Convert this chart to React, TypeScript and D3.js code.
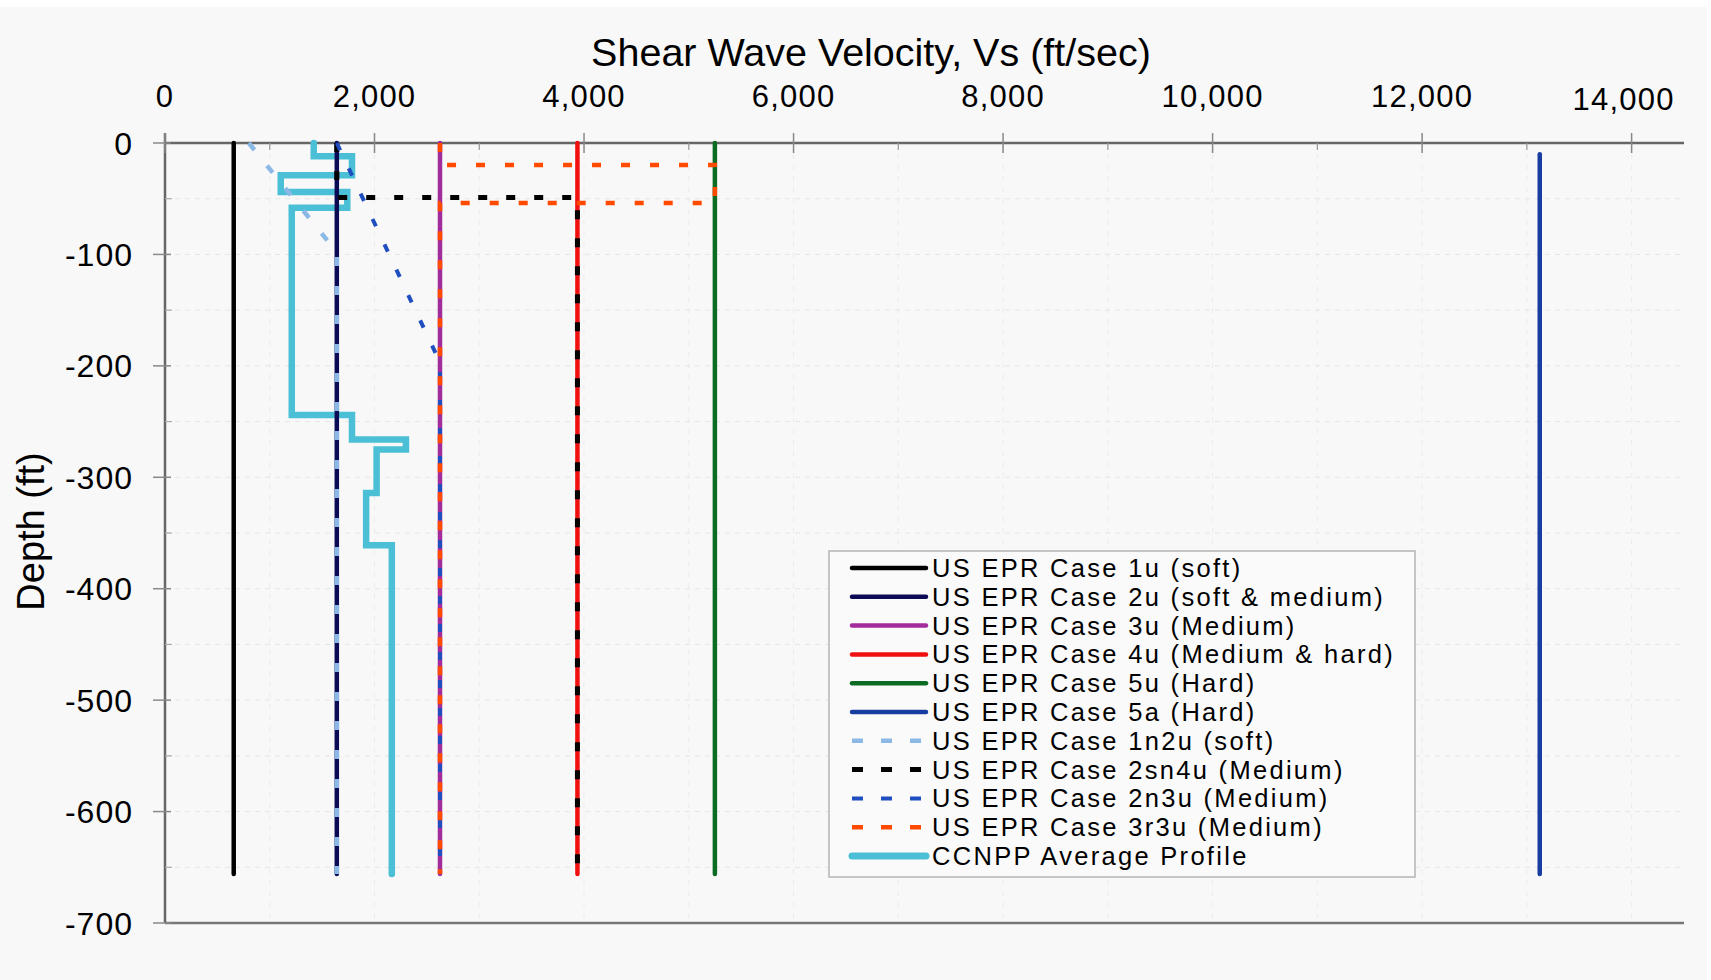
import React from "react";
import * as d3 from "d3";

type Pt = [number, number]; // [velocity ft/s, depth ft]

const velocityTicks = [0, 2000, 4000, 6000, 8000, 10000, 12000, 14000];
const velocityMinorTicks = [1000, 3000, 5000, 7000, 9000, 11000, 13000];
const depthTicks = [0, -100, -200, -300, -400, -500, -600, -700];
const depthMinorTicks = [-50, -150, -250, -350, -450, -550, -650];

const case1u: Pt[] = [[656, 0], [656, -656]];
const case2u: Pt[] = [[1640, 0], [1640, -656]];
const case3u: Pt[] = [[2625, 0], [2625, -656]];
const case4u: Pt[] = [[3937, 0], [3937, -656]];
const case5u: Pt[] = [[5249, 0], [5249, -656]];
const case5a: Pt[] = [[13123, -10], [13123, -656]];
const case1n2u: Pt[] = [[800, 0], [1640, -98], [1640, -656]];
const case2sn4u: Pt[] = [[1640, 0], [1640, -49], [3937, -49], [3937, -656]];
const case2n3u: Pt[] = [[1640, 0], [2625, -197], [2625, -656]];
const case3r3u: Pt[] = [
  [2625, 0], [2625, -19.7], [5249, -19.7], [5249, -53.8], [2625, -53.8], [2625, -656],
];
const ccnpp: Pt[] = [
  [1420, 0], [1420, -12], [1785, -12], [1785, -29], [1105, -29], [1105, -44],
  [1740, -44], [1740, -58], [1210, -58], [1210, -244], [1785, -244], [1785, -266],
  [2300, -266], [2300, -275], [2020, -275], [2020, -314], [1920, -314], [1920, -361],
  [2165, -361], [2165, -656],
];

const seriesLabels = [
  "US EPR Case 1u (soft)",
  "US EPR Case 2u (soft & medium)",
  "US EPR Case 3u (Medium)",
  "US EPR Case 4u (Medium & hard)",
  "US EPR Case 5u (Hard)",
  "US EPR Case 5a (Hard)",
  "US EPR Case 1n2u (soft)",
  "US EPR Case 2sn4u (Medium)",
  "US EPR Case 2n3u (Medium)",
  "US EPR Case 3r3u (Medium)",
  "CCNPP Average Profile",
];
const seriesData = [case1u, case2u, case3u, case4u, case5u, case5a, case1n2u, case2sn4u, case2n3u, case3r3u, ccnpp];

const seriesStyles = [
  { color: "#000000", width: 4.5, dash: "" },
  { color: "#0a0a55", width: 4.5, dash: "" },
  { color: "#a22c9c", width: 4.5, dash: "" },
  { color: "#f01010", width: 4.5, dash: "" },
  { color: "#0b6b22", width: 4.5, dash: "" },
  { color: "#173da0", width: 4.5, dash: "" },
  { color: "#8cb8e6", width: 4.5, dash: "9 20" },
  { color: "#000000", width: 5, dash: "9 19" },
  { color: "#1f4ec0", width: 4, dash: "8 20" },
  { color: "#ff4a00", width: 4.5, dash: "9 20" },
  { color: "#4bbfd5", width: 6.5, dash: "" },
];

const FONT = "'Liberation Sans', Arial, sans-serif";

export default function App() {
  const x = d3.scaleLinear().domain([0, 14500]).range([165, 1684]);
  const y = d3.scaleLinear().domain([0, -700]).range([143, 923]);
  const line = d3
    .line<Pt>()
    .x((d) => x(d[0]))
    .y((d) => y(d[1]));
  const fmt = d3.format(",");

  const gridV = d3.range(1000, 14001, 1000);
  const gridH = d3.range(-50, -651, -50);

  const order = [10, 0, 1, 2, 3, 4, 5, 6, 7, 8, 9];

  const legX = 829;
  const legY = 551;
  const legW = 586;
  const legH = 326;
  const rowY0 = 568;
  const rowStep = 28.8;

  return (
    <svg
      width={1711}
      height={980}
      style={{ position: "absolute", left: 0, top: 0, display: "block" }}
      fontFamily={FONT}
    >
      <rect x={0} y={0} width={1711} height={980} fill="#ffffff" />
      <rect x={0} y={7} width={1707} height={973} fill="#f8f8f8" />

      {/* gridlines */}
      {gridV.map((v) => (
        <line key={"gv" + v} x1={x(v)} x2={x(v)} y1={y(0)} y2={y(-700)} stroke="#ececec" strokeWidth={1} strokeDasharray="5 6" />
      ))}
      {gridH.map((d) => (
        <line key={"gh" + d} x1={x(0)} x2={x(14500)} y1={y(d)} y2={y(d)} stroke="#e6e6e6" strokeWidth={1} strokeDasharray="5 5" />
      ))}

      {/* axes */}
      <line x1={x(0)} x2={x(14500)} y1={y(0)} y2={y(0)} stroke="#666" strokeWidth={2.5} />
      <line x1={x(0)} x2={x(14500)} y1={y(-700)} y2={y(-700)} stroke="#777" strokeWidth={2.5} />
      <line x1={x(0)} x2={x(0)} y1={y(0) - 10} y2={y(-700)} stroke="#666" strokeWidth={2.5} />

      {velocityTicks.map((v) => (
        <line key={"xt" + v} x1={x(v)} x2={x(v)} y1={y(0) - 10} y2={y(0) + 10} stroke="#888" strokeWidth={1.5} />
      ))}
      {velocityMinorTicks.map((v) => (
        <line key={"xm" + v} x1={x(v)} x2={x(v)} y1={y(0)} y2={y(0) + 7} stroke="#999" strokeWidth={1.2} />
      ))}
      {depthTicks.map((d) => (
        <line key={"yt" + d} x1={x(0) - 12} x2={x(0) + 6} y1={y(d)} y2={y(d)} stroke="#888" strokeWidth={1.5} />
      ))}
      {depthMinorTicks.map((d) => (
        <line key={"ym" + d} x1={x(0)} x2={x(0) + 7} y1={y(d)} y2={y(d)} stroke="#aaa" strokeWidth={1.2} />
      ))}

      {velocityTicks.map((v, i) => {
        const last = i === velocityTicks.length - 1;
        return (
          <text
            key={"xl" + v}
            x={x(v) + (last ? -8 : 0)}
            y={last ? 110 : 106.5}
            textAnchor="middle"
            fontSize={31}
            letterSpacing={1.2}
            fill="#000"
          >
            {fmt(v)}
          </text>
        );
      })}
      {depthTicks.map((d) => (
        <text key={"yl" + d} x={133} y={y(d)} dy="0.36em" textAnchor="end" fontSize={32} letterSpacing={1} fill="#000">
          {fmt(d).replace("−", "-")}
        </text>
      ))}

      <text x={871} y={66} textAnchor="middle" fontSize={39.5} fill="#000">
        Shear Wave Velocity, Vs (ft/sec)
      </text>
      <text transform="translate(43.5,531.5) rotate(-90)" textAnchor="middle" fontSize={38} fill="#000">
        Depth (ft)
      </text>

      {/* series */}
      {order.map((i) => {
        const s = seriesStyles[i];
        return (
          <path
            key={"s" + i}
            d={line(seriesData[i]) || ""}
            fill="none"
            stroke={s.color}
            strokeWidth={s.width}
            strokeDasharray={s.dash || undefined}
            strokeLinecap={s.dash ? "butt" : "round"}
            strokeLinejoin="miter"
          />
        );
      })}

      {/* legend */}
      <rect x={legX} y={legY} width={legW} height={legH} fill="#fafafa" stroke="#b4b4b4" strokeWidth={1.5} />
      {seriesLabels.map((lab, i) => {
        const s = seriesStyles[i];
        const cy = rowY0 + i * rowStep;
        return (
          <g key={"lg" + i}>
            <line
              x1={852}
              x2={926}
              y1={cy}
              y2={cy}
              stroke={s.color}
              strokeWidth={i === 10 ? 7 : s.width}
              strokeDasharray={s.dash ? "11 18" : undefined}
              strokeLinecap={s.dash ? "butt" : "round"}
            />
            <text x={932} y={cy + 9} fontSize={25.5} letterSpacing={2.3} fill="#000">
              {lab}
            </text>
          </g>
        );
      })}
    </svg>
  );
}
